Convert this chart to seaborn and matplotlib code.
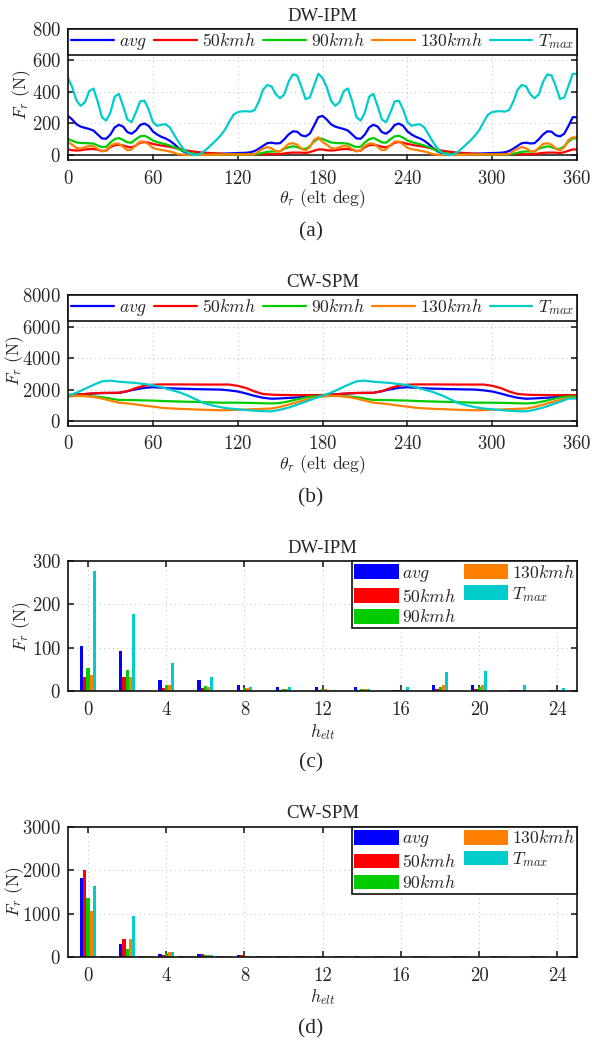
import numpy as np
import pandas as pd
import matplotlib
matplotlib.use('Agg')
import matplotlib.pyplot as plt
from matplotlib.patches import Patch
from matplotlib.lines import Line2D
import seaborn as sns

names = ['$avg$', '$50kmh$', '$90kmh$', '$130kmh$', '$T_{max}$']
colors = ['#0000ff', '#ff0000', '#00cc00', '#ff8000', '#00cccc']

# radial force over half an electrical period, read every 3 deg (DW-IPM)
theta_a = list(range(0, 180, 3))
a_avg = [248, 225, 195, 180, 172, 165, 155, 130, 105, 103, 130, 175, 192, 180, 145, 135, 155, 190, 200, 185,
         150, 130, 115, 105, 90, 70, 45, 25, 12, 7, 5, 5, 5, 6, 6, 7, 8, 9, 10, 11,
         12, 13, 14, 17, 25, 40, 58, 75, 78, 73, 75, 100, 130, 150, 148, 125, 118, 135, 185, 240]
a_50 = [35, 30, 28, 30, 35, 37, 38, 33, 25, 28, 50, 62, 65, 60, 52, 48, 60, 78, 82, 78,
        70, 65, 60, 56, 52, 46, 40, 34, 28, 24, 20, 17, 15, 13, 12, 10, 8, 6, 5, 5,
        5, 5, 5, 5, 5, 5, 5, 5, 5, 5, 5, 10, 13, 15, 15, 15, 12, 18, 27, 35]
a_90 = [102, 90, 80, 76, 75, 74, 72, 60, 50, 52, 80, 100, 108, 95, 80, 78, 100, 118, 122, 110,
        92, 82, 75, 68, 60, 50, 38, 28, 18, 10, 5, 3, 2, 2, 2, 2, 2, 2, 2, 2,
        2, 2, 2, 2, 3, 8, 14, 20, 22, 22, 22, 40, 48, 55, 50, 40, 38, 55, 85, 105]
a_130 = [82, 65, 45, 40, 50, 57, 55, 38, 22, 30, 58, 72, 72, 52, 30, 35, 62, 85, 85, 68,
         45, 37, 32, 27, 22, 14, 5, 2, 0, 0, 0, 1, 1, 1, 2, 2, 2, 3, 3, 3,
         3, 3, 3, 4, 5, 25, 40, 50, 42, 25, 22, 45, 70, 75, 65, 40, 28, 50, 95, 112]
a_tmax = [490, 430, 345, 312, 335, 405, 422, 340, 240, 218, 270, 370, 388, 310, 225, 208, 270, 340, 345, 290,
          210, 185, 192, 195, 175, 130, 85, 45, 18, 3, 0, 5, 22, 45, 70, 95, 125, 160, 210, 255,
          272, 277, 278, 275, 285, 340, 415, 445, 435, 385, 360, 385, 465, 512, 505, 435, 355, 365, 440, 515]

# same, every 6 deg (CW-SPM)
theta_b = list(range(0, 180, 6))
b_avg = [1650, 1690, 1720, 1750, 1780, 1785, 1790, 1900, 2020, 2110, 2150, 2120, 2080, 2060, 2050,
         2030, 2020, 2010, 2000, 1950, 1880, 1750, 1600, 1480, 1420, 1440, 1470, 1500, 1540, 1600]
b_50 = [1650, 1680, 1720, 1760, 1790, 1795, 1800, 1900, 2100, 2250, 2310, 2330, 2330, 2330, 2325,
        2325, 2320, 2320, 2320, 2320, 2240, 2100, 1880, 1720, 1680, 1660, 1655, 1650, 1650, 1650]
b_90 = [1580, 1600, 1600, 1570, 1520, 1430, 1340, 1340, 1330, 1315, 1300, 1280, 1260, 1245, 1230,
        1220, 1200, 1185, 1170, 1170, 1170, 1160, 1150, 1130, 1120, 1150, 1250, 1380, 1500, 1560]
b_130 = [1570, 1600, 1590, 1530, 1430, 1300, 1170, 1120, 1060, 980, 920, 850, 810, 780, 760,
         740, 720, 705, 690, 700, 720, 740, 760, 780, 800, 900, 1050, 1200, 1350, 1470]
b_tmax = [1620, 1800, 2050, 2300, 2520, 2570, 2500, 2460, 2420, 2350, 2280, 2150, 2000, 1850, 1650,
          1400, 1150, 1000, 880, 800, 750, 700, 660, 630, 620, 720, 860, 1040, 1230, 1430]

# harmonic amplitudes, only the even orders carry anything
orders = list(range(0, 26))
c_even = {
    names[0]: [104, 93, 26, 25, 14, 10, 10, 9, 3, 15, 15, 3, 3],
    names[1]: [33, 32, 8, 8, 3, 3, 3, 4, 3, 5, 6, 2, 2],
    names[2]: [53, 49, 14, 13, 7, 5, 5, 5, 2, 9, 9, 3, 3],
    names[3]: [38, 33, 14, 10, 7, 6, 6, 5, 3, 14, 15, 3, 3],
    names[4]: [277, 179, 65, 34, 11, 10, 3, 5, 9, 44, 46, 15, 8],
}
d_even = {
    names[0]: [1830, 310, 80, 60, 35, 20, 12, 12, 10, 10, 10, 8, 8],
    names[1]: [2010, 410, 50, 80, 35, 20, 12, 12, 10, 10, 10, 8, 8],
    names[2]: [1360, 190, 100, 45, 20, 20, 10, 10, 8, 8, 8, 8, 8],
    names[3]: [1060, 410, 120, 45, 15, 20, 10, 10, 8, 8, 8, 8, 8],
    names[4]: [1640, 950, 115, 50, 15, 25, 10, 10, 8, 8, 8, 8, 8],
}
c_odd = 1.5
d_odd = 12

sns.set_style('ticks')
plt.rcParams['font.family'] = ['cmr10', 'DejaVu Sans']
plt.rcParams['mathtext.fontset'] = 'cm'
plt.rcParams['axes.formatter.use_mathtext'] = True
plt.rcParams['axes.unicode_minus'] = False

W, H = 592, 1041
FS = 13.5
LEG_FS = 12.7
fig = plt.figure(figsize=(W / 100, H / 100), dpi=100)


def make_axes(top, bottom):
    return fig.add_axes([68 / W, 1 - bottom / H, 509 / W, (bottom - top) / H])


def dress(ax, title, label, letter, ylabel_x, xlabel_pad):
    ax.set_title(title, family='Liberation Serif', fontsize=13.5, pad=6)
    ax.grid(True, color='#c8c8c8', linestyle=(0, (1, 3)), linewidth=0.8)
    ax.set_axisbelow(True)
    ax.tick_params(direction='in', length=4, width=1.1, top=True, right=True,
                   labelsize=FS, color='#111111', pad=5)
    ax.tick_params(axis='x', pad=7)
    for s in ax.spines.values():
        s.set_visible(True)
        s.set_linewidth(1.2)
        s.set_color('#111111')
    ax.set_xlabel(label, fontsize=LEG_FS, labelpad=xlabel_pad)
    ax.set_ylabel('$F_r$ (N)', fontsize=LEG_FS)
    ax.yaxis.set_label_coords(ylabel_x, 0.5)
    pos = ax.get_position()
    fig.text(311 / W, pos.y0 - 72 / H, letter, family='Liberation Serif', fontsize=15.5,
             ha='center', va='center')


def line_panel(ax, theta, series, ymax, ticks, bottom):
    rows = []
    for name, half in zip(names, series):
        full = list(half) + list(half) + [half[-1]]
        x = list(theta) + [t + 180 for t in theta] + [360]
        rows.append(pd.DataFrame({'theta': x, 'F': full, 'series': name}))
    df = pd.concat(rows, ignore_index=True)
    sns.lineplot(data=df, x='theta', y='F', hue='series', palette=colors, hue_order=names,
                 linewidth=1.6, errorbar=None, legend=False, ax=ax)
    ax.axhline(0, color='#111111', lw=1.1, zorder=1)
    ax.set_xlim(0, 360)
    ax.set_ylim(bottom, ymax)
    ax.set_xticks(range(0, 361, 60))
    ax.set_yticks(ticks)
    handles = [Line2D([], [], color=c, lw=1.6) for c in colors]
    leg = ax.legend(handles, names, ncol=5, loc='upper left', bbox_to_anchor=(0, 1, 1, 0),
                    mode='expand', borderaxespad=0, fontsize=LEG_FS, frameon=True, fancybox=False,
                    edgecolor='#111111', framealpha=1, handlelength=2.4, handletextpad=0.3,
                    columnspacing=0.5, borderpad=0.18)
    leg.get_frame().set_linewidth(1.2)
    leg.set_zorder(5)


def bar_panel(ax, even, odd, ymax, ticks):
    rows = []
    for name in names:
        vals = [even[name][h // 2] if h % 2 == 0 else odd for h in orders[:-1]] + [odd]
        rows.append(pd.DataFrame({'h': orders, 'F': vals, 'series': name}))
    df = pd.concat(rows, ignore_index=True)
    sns.barplot(data=df, x='h', y='F', hue='series', hue_order=names, palette=colors,
                saturation=1, width=0.8, gap=0, linewidth=0, errorbar=None, legend=False, ax=ax)
    ax.set_xlim(-1.02, 25)
    ax.set_ylim(0, ymax)
    ax.set_xticks(range(0, 25, 4))
    ax.set_xticklabels(range(0, 25, 4))
    ax.set_yticks(ticks)
    handles = [Patch(facecolor=c, edgecolor='none') for c in colors]
    leg = ax.legend(handles, names, ncol=2, loc='upper right', bbox_to_anchor=(1, 1),
                    borderaxespad=0, fontsize=LEG_FS, frameon=True, fancybox=False,
                    edgecolor='#111111', framealpha=1, handlelength=2.5, handleheight=0.9,
                    handletextpad=0.2, columnspacing=0.45, borderpad=0.15, labelspacing=0.22)
    leg.get_frame().set_linewidth(1.2)
    leg.set_zorder(5)


theta_label = r'$\theta_r$ (elt deg)'

ax_a = make_axes(29, 160)
line_panel(ax_a, theta_a, [a_avg, a_50, a_90, a_130, a_tmax], 800, range(0, 801, 200), -32)
dress(ax_a, 'DW-IPM', theta_label, '(a)', -0.068, 0)

ax_b = make_axes(295, 425.7)
line_panel(ax_b, theta_b, [b_avg, b_50, b_90, b_130, b_tmax], 8000, range(0, 8001, 2000), -290)
dress(ax_b, 'CW-SPM', theta_label, '(b)', -0.083, 0)

ax_c = make_axes(561, 691.3)
bar_panel(ax_c, c_even, c_odd, 300, range(0, 301, 100))
dress(ax_c, 'DW-IPM', '$h_{elt}$', '(c)', -0.068, 2)

ax_d = make_axes(826.7, 957)
bar_panel(ax_d, d_even, d_odd, 3000, range(0, 3001, 1000))
dress(ax_d, 'CW-SPM', '$h_{elt}$', '(d)', -0.083, 2)

fig.savefig('out.png', dpi=100)
